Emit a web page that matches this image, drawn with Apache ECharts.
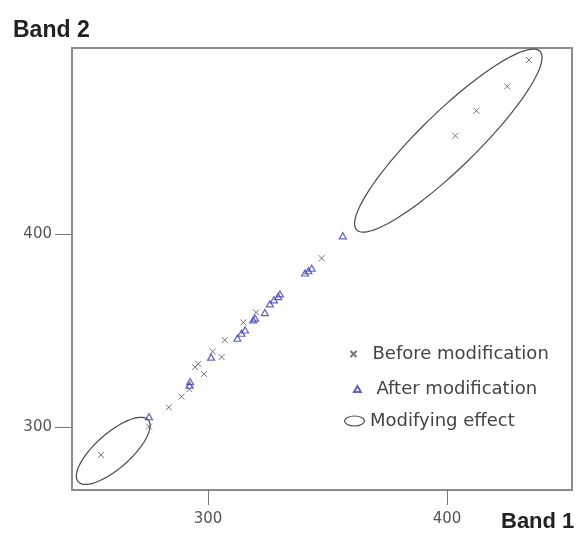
<!DOCTYPE html>
<html>
<head>
<meta charset="utf-8">
<script src="https://cdn.jsdelivr.net/npm/echarts@6/dist/echarts.min.js"></script>
<style>
  html, body { margin: 0; padding: 0; background: #fff; }
  #chart { width: 580px; height: 536px; }
</style>
</head>
<body>
<div id="chart"></div>
<script>
"use strict";
// 改正前 (Band 1, Band 2)
var beforeData = [
    [434.3, 490.3], [425.2, 476.6], [412.3, 464.0], [403.5, 451.0],
    [347.6, 387.5], [320.1, 359.4], [314.8, 354.2], [307.0, 345.0],
    [302.0, 339.1], [305.7, 336.2], [295.9, 332.7], [294.6, 331.0],
    [298.3, 327.5], [292.2, 319.6], [288.9, 315.7], [283.6, 310.2],
    [275.3, 300.2], [255.2, 285.5]
];
// 改正後
var afterData = [
    [356.4, 399.1], [343.4, 382.3], [342.0, 381.0], [340.6, 379.8],
    [330.1, 369.0], [329.4, 367.6], [327.6, 365.9], [325.9, 363.8],
    [323.8, 359.3], [319.7, 356.4], [318.9, 355.5], [315.5, 350.3],
    [314.0, 348.6], [312.3, 346.0], [301.3, 336.2], [292.5, 323.5],
    [292.3, 321.6], [275.3, 305.3]
];
// 楕円: 長軸の両端 (x1, y1, x2, y2) と 短軸/長軸 の比
var effectEllipses = [
    [362.2, 402.2, 438.9, 494.8, 0.22],
    [245.7, 271.6, 275.0, 303.6, 0.375]
];
var tickValues = [300, 400];
var xRange = [243.1, 452.3];
var yRange = [267.3, 496.5];

var chart = echarts.init(document.getElementById('chart'));

var frameColor = '#8c8c8c';
var labelFont = 'DejaVu Sans';

function renderEllipse(params, api) {
    var p1 = api.coord([api.value(0), api.value(1)]);
    var p2 = api.coord([api.value(2), api.value(3)]);
    var ratio = api.value(4);
    var cx = (p1[0] + p2[0]) / 2, cy = (p1[1] + p2[1]) / 2;
    var dx = p2[0] - p1[0], dy = p2[1] - p1[1];
    var a = Math.sqrt(dx * dx + dy * dy) / 2;
    var b = a * ratio;
    var ang = Math.atan2(dy, dx);
    var pts = [];
    for (var i = 0; i < 96; i++) {
        var t = i / 96 * Math.PI * 2;
        var ex = a * Math.cos(t), ey = b * Math.sin(t);
        pts.push([cx + ex * Math.cos(ang) - ey * Math.sin(ang),
                  cy + ex * Math.sin(ang) + ey * Math.cos(ang)]);
    }
    return {
        type: 'polygon',
        shape: {points: pts},
        style: {fill: 'none', stroke: '#4a4a4a', lineWidth: 1.2}
    };
}

var legendText = {color: '#444', fontSize: 18, fontFamily: labelFont};

var option = {
    animation: false,
    backgroundColor: '#fff',
    grid: {
        left: 72, right: 8, top: 48, bottom: 46,
        show: true, borderColor: frameColor, borderWidth: 2
    },
    xAxis: {
        type: 'value',
        min: xRange[0], max: xRange[1],
        splitLine: {show: false},
        axisLine: {lineStyle: {color: frameColor, width: 2}},
        axisTick: {show: true, length: 15, customValues: tickValues, lineStyle: {color: '#777'}},
        axisLabel: {customValues: tickValues, margin: 22, color: '#555', fontSize: 15, fontFamily: labelFont}
    },
    yAxis: {
        type: 'value',
        min: yRange[0], max: yRange[1],
        splitLine: {show: false},
        axisLine: {lineStyle: {color: frameColor, width: 2}},
        axisTick: {show: true, length: 17, customValues: tickValues, lineStyle: {color: '#777'}},
        axisLabel: {customValues: tickValues, margin: 20, color: '#555', fontSize: 15, fontFamily: labelFont}
    },
    legend: [{
        data: ['Before modification'],
        orient: 'vertical', left: 348, top: 345, padding: 0,
        itemWidth: 28, itemHeight: 6, textStyle: legendText
    }, {
        data: ['After modification'],
        orient: 'vertical', left: 353, top: 380, padding: 0,
        itemWidth: 28, itemHeight: 6, textStyle: legendText
    }, {
        data: [{
            name: 'Modifying effect',
            icon: 'path://M0,5A10,5 0 1,1 20,5A10,5 0 1,1 0,5Z',
            itemStyle: {color: 'none', borderColor: '#4a4a4a', borderWidth: 1.2}
        }],
        orient: 'vertical', left: 342, top: 412, padding: 0,
        itemWidth: 21, itemHeight: 10, textStyle: legendText
    }],
    graphic: [{
        type: 'text', left: 13, top: 19,
        style: {text: 'Band 2', fill: '#222', font: 'bold 23px "Liberation Sans"'}
    }, {
        type: 'text', left: 501, top: 511,
        style: {text: 'Band 1', fill: '#222', font: 'bold 22px "Liberation Sans"'}
    }],
    series: [{
        name: 'Modifying effect',
        type: 'custom',
        clip: true,
        renderItem: renderEllipse,
        data: effectEllipses,
        z: 1
    }, {
        name: 'Before modification',
        type: 'scatter',
        symbol: 'path://M0,0L8,8M8,0L0,8',
        symbolSize: 6,
        itemStyle: {color: 'none', borderColor: '#555', borderWidth: 1},
        data: beforeData,
        z: 2
    }, {
        name: 'After modification',
        type: 'scatter',
        symbol: 'path://M4,0L8,7L0,7Z',
        symbolSize: [7, 6],
        itemStyle: {color: 'rgba(0,0,0,0)', borderColor: '#3b3bb5', borderWidth: 1.2},
        data: afterData,
        z: 3
    }]
};

chart.setOption(option);
</script>
</body>
</html>
